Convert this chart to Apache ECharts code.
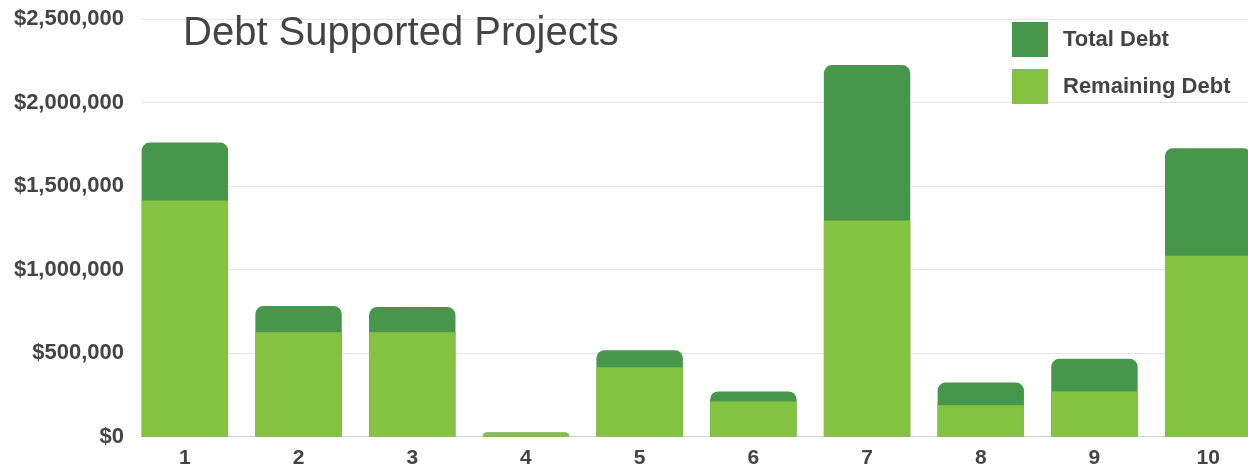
<!DOCTYPE html>
<html><head><meta charset="utf-8">
<script src="https://cdn.jsdelivr.net/npm/echarts@6/dist/echarts.min.js"></script>
<style>html,body{margin:0;padding:0;background:#fff}#c{width:1248px;height:470px}</style>
</head><body><div id="c"></div>
<script>
const categories = ['1','2','3','4','5','6','7','8','9','10'];
const totalDebt = [1760000, 781000, 775000, 24000, 517000, 270000, 2224000, 323000, 465000, 1726000];
const remainingDebt = [1413000, 625000, 625000, 24000, 415000, 210000, 1293000, 187000, 269000, 1083000];
const yTicks = [0, 500000, 1000000, 1500000, 2000000, 2500000];

const DARK = '#46964B', LIGHT = '#83C341';
const chart = echarts.init(document.getElementById('c'));
const fmt = v => '$' + v.toLocaleString('en-US');
chart.setOption({
  animation: false,
  title: { text: 'Debt Supported Projects', left: 178, top: 9,
    textStyle: { fontFamily: 'Liberation Sans', fontSize: 40, fontWeight: 'normal', color: '#444' } },
  legend: { orient: 'vertical', left: 1007, top: 17, itemWidth: 36, itemHeight: 35, itemGap: 12,
    icon: 'rect', data: ['Total Debt', 'Remaining Debt'],
    textStyle: { fontFamily: 'Liberation Sans', fontSize: 22, fontWeight: 'bold', color: '#444', padding: [0,0,0,10] } },
  grid: [
    { left: 142, right: 0, top: 19, bottom: 33.5 },
    { left: 128, width: 1137, top: 19, bottom: 33.5, outerBoundsMode: 'none', containLabel: false }
  ],
  xAxis: [
    { type: 'category', gridIndex: 0, data: categories, axisLabel: { show: false }, axisTick: { show: false },
      axisLine: { show: true, lineStyle: { color: '#ccc' } } },
    { type: 'category', gridIndex: 1, data: categories,
      axisLine: { show: false }, axisTick: { show: false },
      axisLabel: { fontFamily: 'Liberation Sans', fontSize: 21, fontWeight: 'bold', color: '#444', margin: 11 } }
  ],
  yAxis: [
    { type: 'value', gridIndex: 0, min: 0, max: yTicks[yTicks.length-1], interval: 500000,
      axisLine: { show: false }, axisTick: { show: false },
      splitLine: { lineStyle: { color: '#e6e6e6' } },
      axisLabel: { formatter: fmt, fontFamily: 'Liberation Sans', fontSize: 22, fontWeight: 'bold', color: '#444', margin: 18 } },
    { type: 'value', gridIndex: 1, min: 0, max: yTicks[yTicks.length-1], interval: 500000, show: false, splitLine: { show: false } }
  ],
  series: [
    { name: 'Total Debt', type: 'bar', xAxisIndex: 1, yAxisIndex: 1, data: totalDebt,
      barWidth: '76%', barGap: '-100%', itemStyle: { color: DARK, borderRadius: [8,8,0,0] } },
    { name: 'Remaining Debt', type: 'bar', xAxisIndex: 1, yAxisIndex: 1,
      data: remainingDebt.map((v, i) => v >= totalDebt[i] ? { value: v, itemStyle: { borderRadius: [8,8,0,0] } } : v),
      barWidth: '76%', barGap: '-100%', itemStyle: { color: LIGHT } }
  ]
});
</script></body></html>
